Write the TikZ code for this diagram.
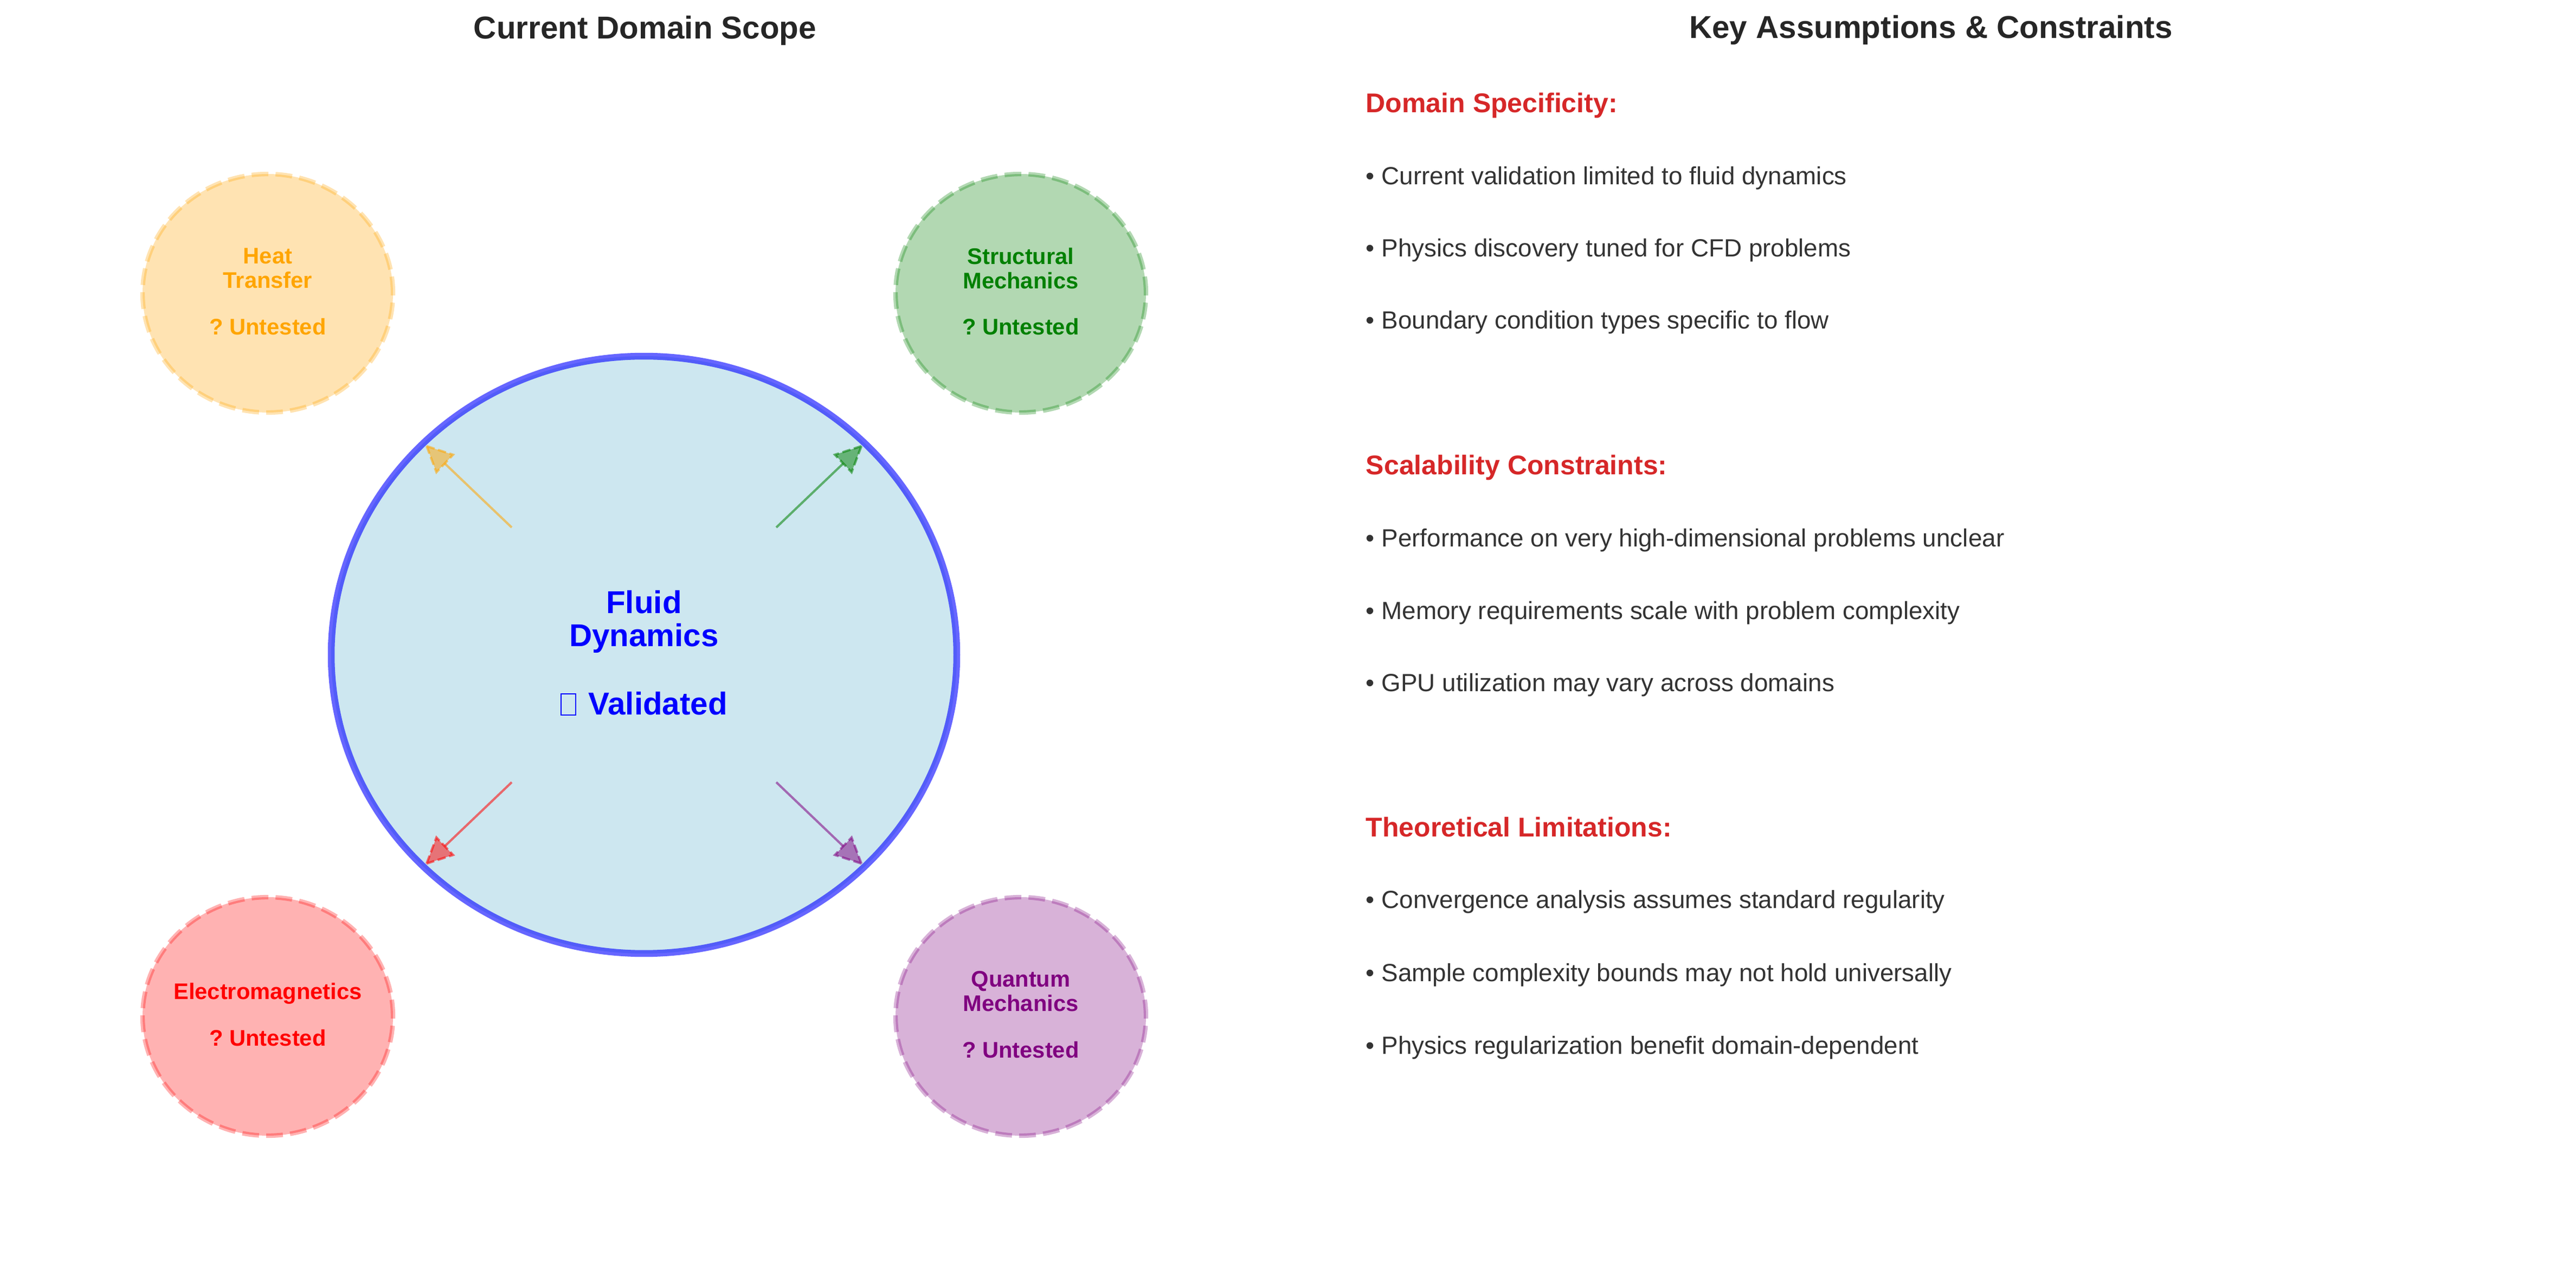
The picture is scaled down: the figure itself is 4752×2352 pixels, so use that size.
\documentclass[tikz,border=0pt]{standalone}
\usepackage{fontspec}
\setmainfont{Liberation Sans}
\frenchspacing
\usetikzlibrary{shapes.geometric,calc}
\definecolor{titlegray}{HTML}{262626}
\definecolor{bodygray}{HTML}{333333}
\definecolor{headred}{HTML}{D62728}
\definecolor{mplorange}{HTML}{FFA500}
\definecolor{mplgreen}{HTML}{008000}
\definecolor{mplred}{HTML}{FF0000}
\definecolor{mplpurple}{HTML}{800080}
\definecolor{mplblue}{HTML}{0000FF}
\definecolor{mpllightblue}{HTML}{ADD8E6}
\newcommand{\tofubox}{{\setlength{\fboxsep}{0pt}\setlength{\fboxrule}{0.5pt}\fbox{\rule{0pt}{8.9pt}\hspace{6pt}}}}
\begin{document}
\begin{tikzpicture}[x=0.24pt,y=-0.24pt,
  titletext/.style={anchor=base, text=titlegray, font=\fontsize{14}{16.8}\selectfont\bfseries, inner sep=0pt},
  headtext/.style={anchor=base west, text=headred, font=\fontsize{12}{14.4}\selectfont\bfseries, inner sep=0pt},
  bullettext/.style={anchor=base west, text=bodygray, font=\fontsize{11}{13.2}\selectfont, inner sep=0pt},
  domain/.style={ellipse, minimum width=110.88pt, minimum height=105.6pt, inner sep=0pt,
    fill=#1, fill opacity=0.3, draw=#1, draw opacity=0.3,
    line width=2pt, dash pattern=on 7.4pt off 3.2pt},
  domainlabel/.style={text=#1, align=center, inner sep=0pt, yshift=0.8pt,
    font=\fontsize{10}{10.8}\selectfont\bfseries},
  core/.style={ellipse, minimum width=276.96pt, minimum height=264.48pt, inner sep=0pt,
    fill=mpllightblue, fill opacity=0.6, draw=mplblue, draw opacity=0.6, line width=3pt},
  corelabel/.style={text=mplblue, align=center, inner sep=0pt, yshift=0.8pt,
    font=\fontsize{14}{14.6}\selectfont\bfseries},
  shaft/.style={line width=1pt, draw=#1, draw opacity=0.55},
  headtip/.style={fill=#1, draw=#1, fill opacity=0.5, draw opacity=0.55, line width=1pt, dash pattern=on 3.7pt off 1.6pt},
]
\useasboundingbox (0,0) rectangle (4752,2352);
\fill[white] (0,0) rectangle (4752,2352);

% titles
\node[titletext] (lefttitle) at (1190,72) {Current Domain Scope};
\node[titletext] (righttitle) at (3562,71) {Key Assumptions \& Constraints};

% central domain
\node[core] (fluid) at (1188,1208) {};
\node[corelabel] (fluidtext) at (fluid.center) {Fluid\\Dynamics\\[15.6pt]\tofubox\hspace{1.5pt} Validated};

% surrounding domains
\node[domain=mplorange] (heat) at (494,541) {};
\node[domainlabel=mplorange] (heattext) at (heat.center) {Heat\\Transfer\\[9.8pt]? Untested};
\node[domain=mplgreen] (struct) at (1883,541) {};
\node[domainlabel=mplgreen] (structtext) at (struct.center) {Structural\\Mechanics\\[9.8pt]? Untested};
\node[domain=mplred] (em) at (494,1875) {};
\node[domainlabel=mplred] (emtext) at (em.center) {Electromagnetics\\[9.8pt]? Untested};
\node[domain=mplpurple] (quantum) at (1883,1875) {};
\node[domainlabel=mplpurple] (quantumtext) at (quantum.center) {Quantum\\Mechanics\\[9.8pt]? Untested};

% arrow end points
\coordinate (so) at (944,973);  \coordinate (to) at (787,823);
\coordinate (sg) at (1432,973); \coordinate (tg) at (1589,823);
\coordinate (sr) at (944,1443); \coordinate (tr) at (787,1593);
\coordinate (sp) at (1432,1443);\coordinate (tp) at (1589,1593);

% arrows
\draw[shaft=mplorange] (so) -- ($(to)!11.1pt!(so)$);
\filldraw[headtip=mplorange] (to) -- ($(to)!12.32pt!25.7:(so)$) -- ($(to)!12.32pt!-25.7:(so)$) -- cycle;
\draw[shaft=mplgreen] (sg) -- ($(tg)!11.1pt!(sg)$);
\filldraw[headtip=mplgreen] (tg) -- ($(tg)!12.32pt!25.7:(sg)$) -- ($(tg)!12.32pt!-25.7:(sg)$) -- cycle;
\draw[shaft=mplred] (sr) -- ($(tr)!11.1pt!(sr)$);
\filldraw[headtip=mplred] (tr) -- ($(tr)!12.32pt!25.7:(sr)$) -- ($(tr)!12.32pt!-25.7:(sr)$) -- cycle;
\draw[shaft=mplpurple] (sp) -- ($(tp)!11.1pt!(sp)$);
\filldraw[headtip=mplpurple] (tp) -- ($(tp)!12.32pt!25.7:(sp)$) -- ($(tp)!12.32pt!-25.7:(sp)$) -- cycle;

% right panel
\node[headtext] (h1) at (2519,208) {Domain Specificity:};
\node[bullettext] (b11) at (2519,341) {• Current validation limited to fluid dynamics};
\node[bullettext] (b12) at (2519,474) {• Physics discovery tuned for CFD problems};
\node[bullettext] (b13) at (2519,607) {• Boundary condition types specific to flow};

\node[headtext] (h2) at (2519,876) {Scalability Constraints:};
\node[bullettext] (b21) at (2519,1009) {• Performance on very high-dimensional problems unclear};
\node[bullettext] (b22) at (2519,1143) {• Memory requirements scale with problem complexity};
\node[bullettext] (b23) at (2519,1276) {• GPU utilization may vary across domains};

\node[headtext] (h3) at (2519,1544) {Theoretical Limitations:};
\node[bullettext] (b31) at (2519,1676) {• Convergence analysis assumes standard regularity};
\node[bullettext] (b32) at (2519,1810) {• Sample complexity bounds may not hold universally};
\node[bullettext] (b33) at (2519,1944) {• Physics regularization benefit domain-dependent};
\end{tikzpicture}
\end{document}
